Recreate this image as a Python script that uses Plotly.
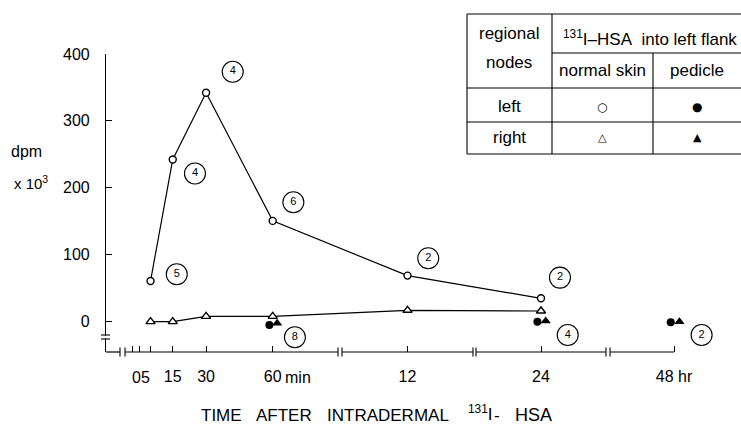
import plotly.graph_objects as go

W, H = 741, 424

# ---------------- data (time in minutes, dpm x 10^3) ----------------
time_normal_min = [5, 15, 30, 60, 720, 1440]
left_normal = [60, 242, 342, 150, 68, 34]
right_normal = [-1, -1, 7, 7, 16, 15]

time_left_pedicle_min = [58.5, 1420, 2862]
left_pedicle = [-6, -1, -2]
time_right_pedicle_min = [62, 1466, 2910]
right_pedicle = [-3.5, 0, -1]

n_time_min = [16.8, 25, 42, 69.3, 70, 834, 1545, 1588, 3032]
n_value = [70, 221, 373.5, 178, -24.4, 94, 65, -21, -21]
n_text = ["5", "4", "4", "6", "8", "2", "2", "4", "2"]

tick_times_min = [15, 30, 60, 720, 1440, 2880]
tick_text = ["15", "30", "60", "12", "24", "48 hr"]
minor_tick_times_min = [-3, 0, 5]
y_ticks = [0, 100, 200, 300, 400]

# ---------------- broken time scale ----------------
# (t0 min, t1 min, p0, p1) : each axis piece and where it sits on the x axis
SEGS = [(-6.5, 89.4, 125, 338),
        (360, 1080, 342, 473),
        (1080, 1800, 476, 606),
        (2527.8, 2880, 610, 674)]


def pos(t):
    for i, (t0, t1, p0, p1) in enumerate(SEGS):
        if t <= t1 or i == len(SEGS) - 1:
            return p0 + (t - t0) * (p1 - p0) / (t1 - t0)


def P(v):
    return [pos(t) for t in v]


def px(x):
    return x / W


def py(y):
    return 1 - y / H


FONT = "Liberation Sans"
BLK = "black"

fig = go.Figure()

fig.add_trace(go.Scatter(
    x=P(time_normal_min), y=left_normal, mode="lines+markers",
    line=dict(color=BLK, width=1.2),
    marker=dict(symbol="circle", size=7, color="white", line=dict(color=BLK, width=1.4)),
    cliponaxis=False, showlegend=False))
fig.add_trace(go.Scatter(
    x=P(time_normal_min), y=right_normal, mode="lines+markers",
    line=dict(color=BLK, width=1.2),
    marker=dict(symbol="triangle-up", size=8, color="white", line=dict(color=BLK, width=1.4)),
    cliponaxis=False, showlegend=False))
fig.add_trace(go.Scatter(
    x=P(time_left_pedicle_min), y=left_pedicle, mode="markers",
    marker=dict(symbol="circle", size=8, color=BLK),
    cliponaxis=False, showlegend=False))
fig.add_trace(go.Scatter(
    x=P(time_right_pedicle_min), y=right_pedicle, mode="markers",
    marker=dict(symbol="triangle-up", size=9, color=BLK),
    cliponaxis=False, showlegend=False))
fig.add_trace(go.Scatter(
    x=P(n_time_min), y=n_value, mode="markers+text", text=n_text,
    textposition="middle center", textfont=dict(family=FONT, size=11, color=BLK),
    marker=dict(symbol="circle", size=21, color="rgba(255,255,255,0)", line=dict(color=BLK, width=1.1)),
    cliponaxis=False, showlegend=False))

Y0, Y1 = 352, 54  # pixel rows of axis bottom / 400 tick
ybottom = -(Y0 - 321) * 400 / (321 - Y1)
XL, XR = 106, 741

fig.update_layout(
    width=W, height=H, margin=dict(l=0, r=0, t=0, b=0, pad=0),
    paper_bgcolor="white", plot_bgcolor="white",
    font=dict(family=FONT, size=16, color=BLK),
    xaxis=dict(domain=[px(XL), px(XR)], range=[XL, XR], automargin=False,
               tickmode="array", tickvals=P(tick_times_min), ticktext=tick_text,
               ticks="inside", ticklen=6, tickwidth=1, tickcolor=BLK,
               minor=dict(tickmode="array", tickvals=P(minor_tick_times_min),
                          ticks="inside", ticklen=6, tickwidth=1, tickcolor=BLK, showgrid=False),
               showline=False, showgrid=False, zeroline=False, ticklabelstandoff=13,
               tickfont=dict(family=FONT, size=16, color=BLK)),
    yaxis=dict(domain=[py(Y0), py(Y1)], range=[ybottom, 400], automargin=False,
               tickmode="array", tickvals=y_ticks,
               ticks="inside", ticklen=6, tickwidth=1, tickcolor=BLK,
               showline=True, linecolor=BLK, linewidth=1.2,
               showgrid=False, zeroline=False, ticklabelstandoff=12,
               tickfont=dict(family=FONT, size=16, color=BLK)),
)

shapes = []


def line(x0, y0, x1, y1, w=1.1):
    shapes.append(dict(type="line", xref="paper", yref="paper",
                       x0=px(x0), y0=py(y0), x1=px(x1), y1=py(y1),
                       line=dict(color=BLK, width=w)))


def white(x0, y0, x1, y1):
    shapes.append(dict(type="rect", xref="paper", yref="paper",
                       x0=px(x0), y0=py(y0), x1=px(x1), y1=py(y1),
                       fillcolor="white", line=dict(width=0), layer="above"))


# x-axis line pieces with break marks
pieces = [(XL, XL + 14)] + [(s[2], s[3]) for s in SEGS]
for i, (a, b) in enumerate(pieces):
    line(a, Y0, b, Y0, 1.2)
    if i > 0:
        line(a, Y0 - 4.5, a, Y0 + 4.5)
    if i < len(pieces) - 1:
        line(b, Y0 - 4.5, b, Y0 + 4.5)
# y-axis break
white(102, 335.6, 111, 338.4)
line(101, 335, 110, 335)
line(101, 339, 110, 339)

# legend table
TX0, TX1, TC1, TC2 = 467, 741, 552, 653
line(TX0, 14, TX1, 14)
line(TX0, 14, TX0, 154)
line(TX0, 154, TX1, 154)
line(TC1, 14, TC1, 154)
line(TC2, 53, TC2, 154)
line(TC1, 53, TX1, 53)
line(TX0, 88, TX1, 88)
line(TX0, 122, TX1, 122)

fig.update_layout(shapes=shapes)

ann = []


def text(x, y, s, size=16, xanchor="center", family=FONT):
    ann.append(dict(x=px(x), y=py(y), xref="paper", yref="paper", text=s, showarrow=False,
                    xanchor=xanchor, yanchor="middle", font=dict(family=family, size=size, color=BLK)))


text(509, 33, "regional", 17)
text(509, 62, "nodes", 17)
text(561, 38, "<sup>131</sup>I\u2013HSA\u00a0 into left flank", 17, "left")
text(602, 70, "normal skin", 17)
text(697, 70, "pedicle", 17)
text(509, 106, "left", 17)
text(509, 137, "right", 17)
text(602, 107, "\u25cb", 12, family="DejaVu Sans")
text(697, 107, "\u25cf", 12, family="DejaVu Sans")
text(602, 137, "\u25b3", 11, family="DejaVu Sans")
text(697, 137, "\u25b2", 11, family="DejaVu Sans")

# axis labels
text(26, 152, "dpm")
text(31, 182, "x 10<sup>3</sup>", 15)
text(141, 377, "05")
text(pos(60) + 10, 377, "min", 16, "left")
text(221, 415, "TIME", 17)
text(284, 415, "AFTER", 17)
text(388, 415, "INTRADERMAL", 17)
text(466, 413, "<sup>131</sup>I", 17, "left")
text(497, 415, "-", 17)
text(533, 415, "HSA", 18)

fig.update_layout(annotations=ann)

fig.write_html("out.html")
